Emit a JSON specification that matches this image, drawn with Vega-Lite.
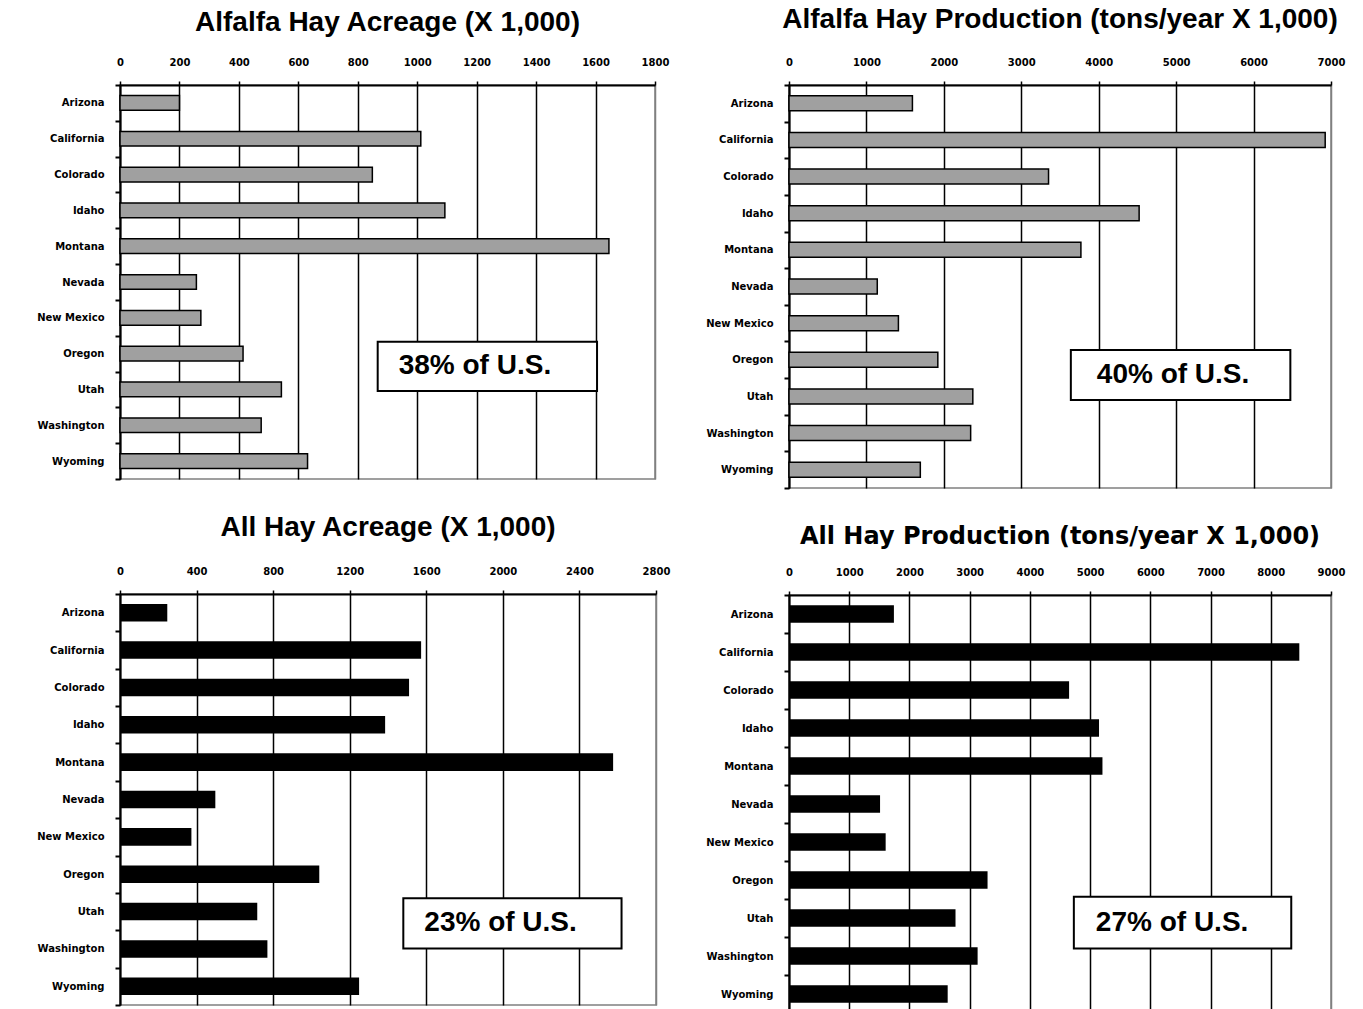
{
  "$schema": "https://vega.github.io/schema/vega-lite/v6.json",
  "padding": {"left": 0, "top": 5, "right": 0, "bottom": 0},
  "background": "white",
  "datasets": {
    "hay": [
      {"panel": "p1", "state": "Arizona", "value": 200},
      {"panel": "p1", "state": "California", "value": 1012},
      {"panel": "p1", "state": "Colorado", "value": 849},
      {"panel": "p1", "state": "Idaho", "value": 1093},
      {"panel": "p1", "state": "Montana", "value": 1645},
      {"panel": "p1", "state": "Nevada", "value": 257},
      {"panel": "p1", "state": "New Mexico", "value": 272},
      {"panel": "p1", "state": "Oregon", "value": 414},
      {"panel": "p1", "state": "Utah", "value": 543},
      {"panel": "p1", "state": "Washington", "value": 475},
      {"panel": "p1", "state": "Wyoming", "value": 631},
      {"panel": "p2", "state": "Arizona", "value": 1594},
      {"panel": "p2", "state": "California", "value": 6925},
      {"panel": "p2", "state": "Colorado", "value": 3352},
      {"panel": "p2", "state": "Idaho", "value": 4522},
      {"panel": "p2", "state": "Montana", "value": 3770},
      {"panel": "p2", "state": "Nevada", "value": 1140},
      {"panel": "p2", "state": "New Mexico", "value": 1413},
      {"panel": "p2", "state": "Oregon", "value": 1922},
      {"panel": "p2", "state": "Utah", "value": 2374},
      {"panel": "p2", "state": "Washington", "value": 2346},
      {"panel": "p2", "state": "Wyoming", "value": 1696},
      {"panel": "p3", "state": "Arizona", "value": 247},
      {"panel": "p3", "state": "California", "value": 1573},
      {"panel": "p3", "state": "Colorado", "value": 1510},
      {"panel": "p3", "state": "Idaho", "value": 1385},
      {"panel": "p3", "state": "Montana", "value": 2576},
      {"panel": "p3", "state": "Nevada", "value": 498},
      {"panel": "p3", "state": "New Mexico", "value": 373},
      {"panel": "p3", "state": "Oregon", "value": 1041},
      {"panel": "p3", "state": "Utah", "value": 717},
      {"panel": "p3", "state": "Washington", "value": 770},
      {"panel": "p3", "state": "Wyoming", "value": 1249},
      {"panel": "p4", "state": "Arizona", "value": 1742},
      {"panel": "p4", "state": "California", "value": 8474},
      {"panel": "p4", "state": "Colorado", "value": 4651},
      {"panel": "p4", "state": "Idaho", "value": 5148},
      {"panel": "p4", "state": "Montana", "value": 5205},
      {"panel": "p4", "state": "Nevada", "value": 1512},
      {"panel": "p4", "state": "New Mexico", "value": 1605},
      {"panel": "p4", "state": "Oregon", "value": 3297},
      {"panel": "p4", "state": "Utah", "value": 2765},
      {"panel": "p4", "state": "Washington", "value": 3132},
      {"panel": "p4", "state": "Wyoming", "value": 2635}
    ],
    "notes": [
      {"panel": "p1", "label": "38% of U.S.", "x1": 867, "x2": 1605, "y1": 7.17, "y2": 8.54, "ty": 7.855},
      {"panel": "p2", "label": "40% of U.S.", "x1": 3640, "x2": 6475, "y1": 7.23, "y2": 8.6, "ty": 7.915},
      {"panel": "p3", "label": "23% of U.S.", "x1": 1480, "x2": 2620, "y1": 8.14, "y2": 9.49, "ty": 8.815},
      {"panel": "p4", "label": "27% of U.S.", "x1": 4730, "x2": 8340, "y1": 7.94, "y2": 9.3, "ty": 8.62}
    ]
  },
  "hconcat": [
    {
      "vconcat": [
        {
          "width": 535, "height": 394,
          "title": {"text": "Alfalfa Hay Acreage (X 1,000)", "font": "Liberation Sans, Arial, sans-serif", "fontSize": 28, "fontWeight": "bold", "color": "black", "frame": "group", "anchor": "middle", "offset": 20},
          "resolve": {"scale": {"y": "independent"}},
          "layer": [
            {
              "data": {"name": "hay"},
              "transform": [{"filter": "datum.panel === 'p1'"}],
              "mark": {"type": "bar", "fill": "#a0a0a0", "stroke": "black", "strokeWidth": 1.5, "height": {"band": 0.41}},
              "encoding": {
                "y": {"field": "state", "type": "nominal", "sort": null, "title": null, "scale": {"paddingInner": 0, "paddingOuter": 0}, "axis": {"minExtent": 119, "maxExtent": 119}},
                "x": {"field": "value", "type": "quantitative", "title": null, "scale": {"domain": [0, 1800], "nice": false, "zero": true},
                  "axis": {"orient": "top", "format": "d", "values": [0, 200, 400, 600, 800, 1000, 1200, 1400, 1600, 1800], "gridColor": {"condition": {"test": "datum.value === 1800", "value": "#808080"}, "value": "black"}}}
              }
            },
            {
              "data": {"name": "notes"},
              "transform": [{"filter": "datum.panel === 'p1'"}],
              "mark": {"type": "rect", "fill": "white", "stroke": "black", "strokeWidth": 2},
              "encoding": {
                "x": {"field": "x1", "type": "quantitative", "title": null, "scale": {"domain": [0, 1800], "nice": false}},
                "x2": {"field": "x2"},
                "y": {"field": "y1", "type": "quantitative", "scale": {"domain": [0, 11], "reverse": true, "nice": false, "zero": false}, "axis": null},
                "y2": {"field": "y2"}
              }
            },
            {
              "data": {"name": "notes"},
              "transform": [{"filter": "datum.panel === 'p1'"}],
              "mark": {"type": "text", "align": "left", "baseline": "middle", "dx": 21, "font": "Liberation Sans, Arial, sans-serif", "fontSize": 28, "fontWeight": "bold", "color": "black"},
              "encoding": {
                "x": {"field": "x1", "type": "quantitative", "title": null, "scale": {"domain": [0, 1800], "nice": false}},
                "y": {"field": "ty", "type": "quantitative", "scale": {"domain": [0, 11], "reverse": true, "nice": false, "zero": false}, "axis": null},
                "text": {"field": "label"}
              }
            }
          ]
        },
        {
          "width": 536, "height": 411,
          "title": {"text": "All Hay Acreage (X 1,000)", "font": "Liberation Sans, Arial, sans-serif", "fontSize": 28, "fontWeight": "bold", "color": "black", "frame": "group", "anchor": "middle", "offset": 24},
          "resolve": {"scale": {"y": "independent"}},
          "layer": [
            {
              "data": {"name": "hay"},
              "transform": [{"filter": "datum.panel === 'p3'"}],
              "mark": {"type": "bar", "fill": "black", "height": {"band": 0.47}},
              "encoding": {
                "y": {"field": "state", "type": "nominal", "sort": null, "title": null, "scale": {"paddingInner": 0, "paddingOuter": 0}, "axis": {"minExtent": 119, "maxExtent": 119}},
                "x": {"field": "value", "type": "quantitative", "title": null, "scale": {"domain": [0, 2800], "nice": false, "zero": true},
                  "axis": {"orient": "top", "format": "d", "values": [0, 400, 800, 1200, 1600, 2000, 2400, 2800], "gridColor": {"condition": {"test": "datum.value === 2800", "value": "#808080"}, "value": "black"}}}
              }
            },
            {
              "data": {"name": "notes"},
              "transform": [{"filter": "datum.panel === 'p3'"}],
              "mark": {"type": "rect", "fill": "white", "stroke": "black", "strokeWidth": 2},
              "encoding": {
                "x": {"field": "x1", "type": "quantitative", "title": null, "scale": {"domain": [0, 2800], "nice": false}},
                "x2": {"field": "x2"},
                "y": {"field": "y1", "type": "quantitative", "scale": {"domain": [0, 11], "reverse": true, "nice": false, "zero": false}, "axis": null},
                "y2": {"field": "y2"}
              }
            },
            {
              "data": {"name": "notes"},
              "transform": [{"filter": "datum.panel === 'p3'"}],
              "mark": {"type": "text", "align": "left", "baseline": "middle", "dx": 21, "font": "Liberation Sans, Arial, sans-serif", "fontSize": 28, "fontWeight": "bold", "color": "black"},
              "encoding": {
                "x": {"field": "x1", "type": "quantitative", "title": null, "scale": {"domain": [0, 2800], "nice": false}},
                "y": {"field": "ty", "type": "quantitative", "scale": {"domain": [0, 11], "reverse": true, "nice": false, "zero": false}, "axis": null},
                "text": {"field": "label"}
              }
            }
          ]
        }
      ],
      "spacing": 32
    },
    {
      "vconcat": [
        {
          "width": 542, "height": 403,
          "title": {"text": "Alfalfa Hay Production (tons/year X 1,000)", "font": "Liberation Sans, Arial, sans-serif", "fontSize": 28, "fontWeight": "bold", "color": "black", "frame": "group", "anchor": "middle", "offset": 23},
          "resolve": {"scale": {"y": "independent"}},
          "layer": [
            {
              "data": {"name": "hay"},
              "transform": [{"filter": "datum.panel === 'p2'"}],
              "mark": {"type": "bar", "fill": "#a0a0a0", "stroke": "black", "strokeWidth": 1.5, "height": {"band": 0.41}},
              "encoding": {
                "y": {"field": "state", "type": "nominal", "sort": null, "title": null, "scale": {"paddingInner": 0, "paddingOuter": 0}, "axis": {"minExtent": 104, "maxExtent": 104}},
                "x": {"field": "value", "type": "quantitative", "title": null, "scale": {"domain": [0, 7000], "nice": false, "zero": true},
                  "axis": {"orient": "top", "format": "d", "values": [0, 1000, 2000, 3000, 4000, 5000, 6000, 7000], "gridColor": {"condition": {"test": "datum.value === 7000", "value": "#808080"}, "value": "black"}}}
              }
            },
            {
              "data": {"name": "notes"},
              "transform": [{"filter": "datum.panel === 'p2'"}],
              "mark": {"type": "rect", "fill": "white", "stroke": "black", "strokeWidth": 2},
              "encoding": {
                "x": {"field": "x1", "type": "quantitative", "title": null, "scale": {"domain": [0, 7000], "nice": false}},
                "x2": {"field": "x2"},
                "y": {"field": "y1", "type": "quantitative", "scale": {"domain": [0, 11], "reverse": true, "nice": false, "zero": false}, "axis": null},
                "y2": {"field": "y2"}
              }
            },
            {
              "data": {"name": "notes"},
              "transform": [{"filter": "datum.panel === 'p2'"}],
              "mark": {"type": "text", "align": "left", "baseline": "middle", "dx": 26, "font": "Liberation Sans, Arial, sans-serif", "fontSize": 28, "fontWeight": "bold", "color": "black"},
              "encoding": {
                "x": {"field": "x1", "type": "quantitative", "title": null, "scale": {"domain": [0, 7000], "nice": false}},
                "y": {"field": "ty", "type": "quantitative", "scale": {"domain": [0, 11], "reverse": true, "nice": false, "zero": false}, "axis": null},
                "text": {"field": "label"}
              }
            }
          ]
        },
        {
          "width": 542, "height": 418,
          "title": {"text": "All Hay Production (tons/year X 1,000)", "font": "DejaVu Sans, Verdana, sans-serif", "fontSize": 24, "fontWeight": "bold", "color": "black", "frame": "group", "anchor": "middle", "offset": 18},
          "resolve": {"scale": {"y": "independent"}},
          "layer": [
            {
              "data": {"name": "hay"},
              "transform": [{"filter": "datum.panel === 'p4'"}],
              "mark": {"type": "bar", "fill": "black", "height": {"band": 0.46}},
              "encoding": {
                "y": {"field": "state", "type": "nominal", "sort": null, "title": null, "scale": {"paddingInner": 0, "paddingOuter": 0}, "axis": {"minExtent": 104, "maxExtent": 104}},
                "x": {"field": "value", "type": "quantitative", "title": null, "scale": {"domain": [0, 9000], "nice": false, "zero": true},
                  "axis": {"orient": "top", "format": "d", "values": [0, 1000, 2000, 3000, 4000, 5000, 6000, 7000, 8000, 9000], "gridColor": {"condition": {"test": "datum.value === 9000", "value": "#808080"}, "value": "black"}}}
              }
            },
            {
              "data": {"name": "notes"},
              "transform": [{"filter": "datum.panel === 'p4'"}],
              "mark": {"type": "rect", "fill": "white", "stroke": "black", "strokeWidth": 2},
              "encoding": {
                "x": {"field": "x1", "type": "quantitative", "title": null, "scale": {"domain": [0, 9000], "nice": false}},
                "x2": {"field": "x2"},
                "y": {"field": "y1", "type": "quantitative", "scale": {"domain": [0, 11], "reverse": true, "nice": false, "zero": false}, "axis": null},
                "y2": {"field": "y2"}
              }
            },
            {
              "data": {"name": "notes"},
              "transform": [{"filter": "datum.panel === 'p4'"}],
              "mark": {"type": "text", "align": "left", "baseline": "middle", "dx": 22, "font": "Liberation Sans, Arial, sans-serif", "fontSize": 28, "fontWeight": "bold", "color": "black"},
              "encoding": {
                "x": {"field": "x1", "type": "quantitative", "title": null, "scale": {"domain": [0, 9000], "nice": false}},
                "y": {"field": "ty", "type": "quantitative", "scale": {"domain": [0, 11], "reverse": true, "nice": false, "zero": false}, "axis": null},
                "text": {"field": "label"}
              }
            }
          ]
        }
      ],
      "spacing": 34
    }
  ],
  "spacing": 13,
  "config": {
    "view": {"stroke": "#808080", "strokeWidth": 1.5},
    "axisX": {
      "domainColor": "black", "domainWidth": 2,
      "tickColor": "black", "tickWidth": 1.5, "tickSize": 4,
      "grid": true, "gridWidth": 1.5,
      "labelFont": "DejaVu Sans, Verdana, sans-serif", "labelFontSize": 10, "labelFontWeight": "bold", "labelColor": "black",
      "labelPadding": 14, "labelFlush": false, "labelOverlap": false, "labelAngle": 0
    },
    "axisY": {
      "domainColor": "black", "domainWidth": 2,
      "tickColor": "black", "tickWidth": 2, "tickSize": 5, "tickBand": "extent",
      "grid": false,
      "labelFont": "DejaVu Sans, Verdana, sans-serif", "labelFontSize": 10, "labelFontWeight": "bold", "labelColor": "black",
      "labelPadding": 11, "labelOverlap": false
    }
  }
}
